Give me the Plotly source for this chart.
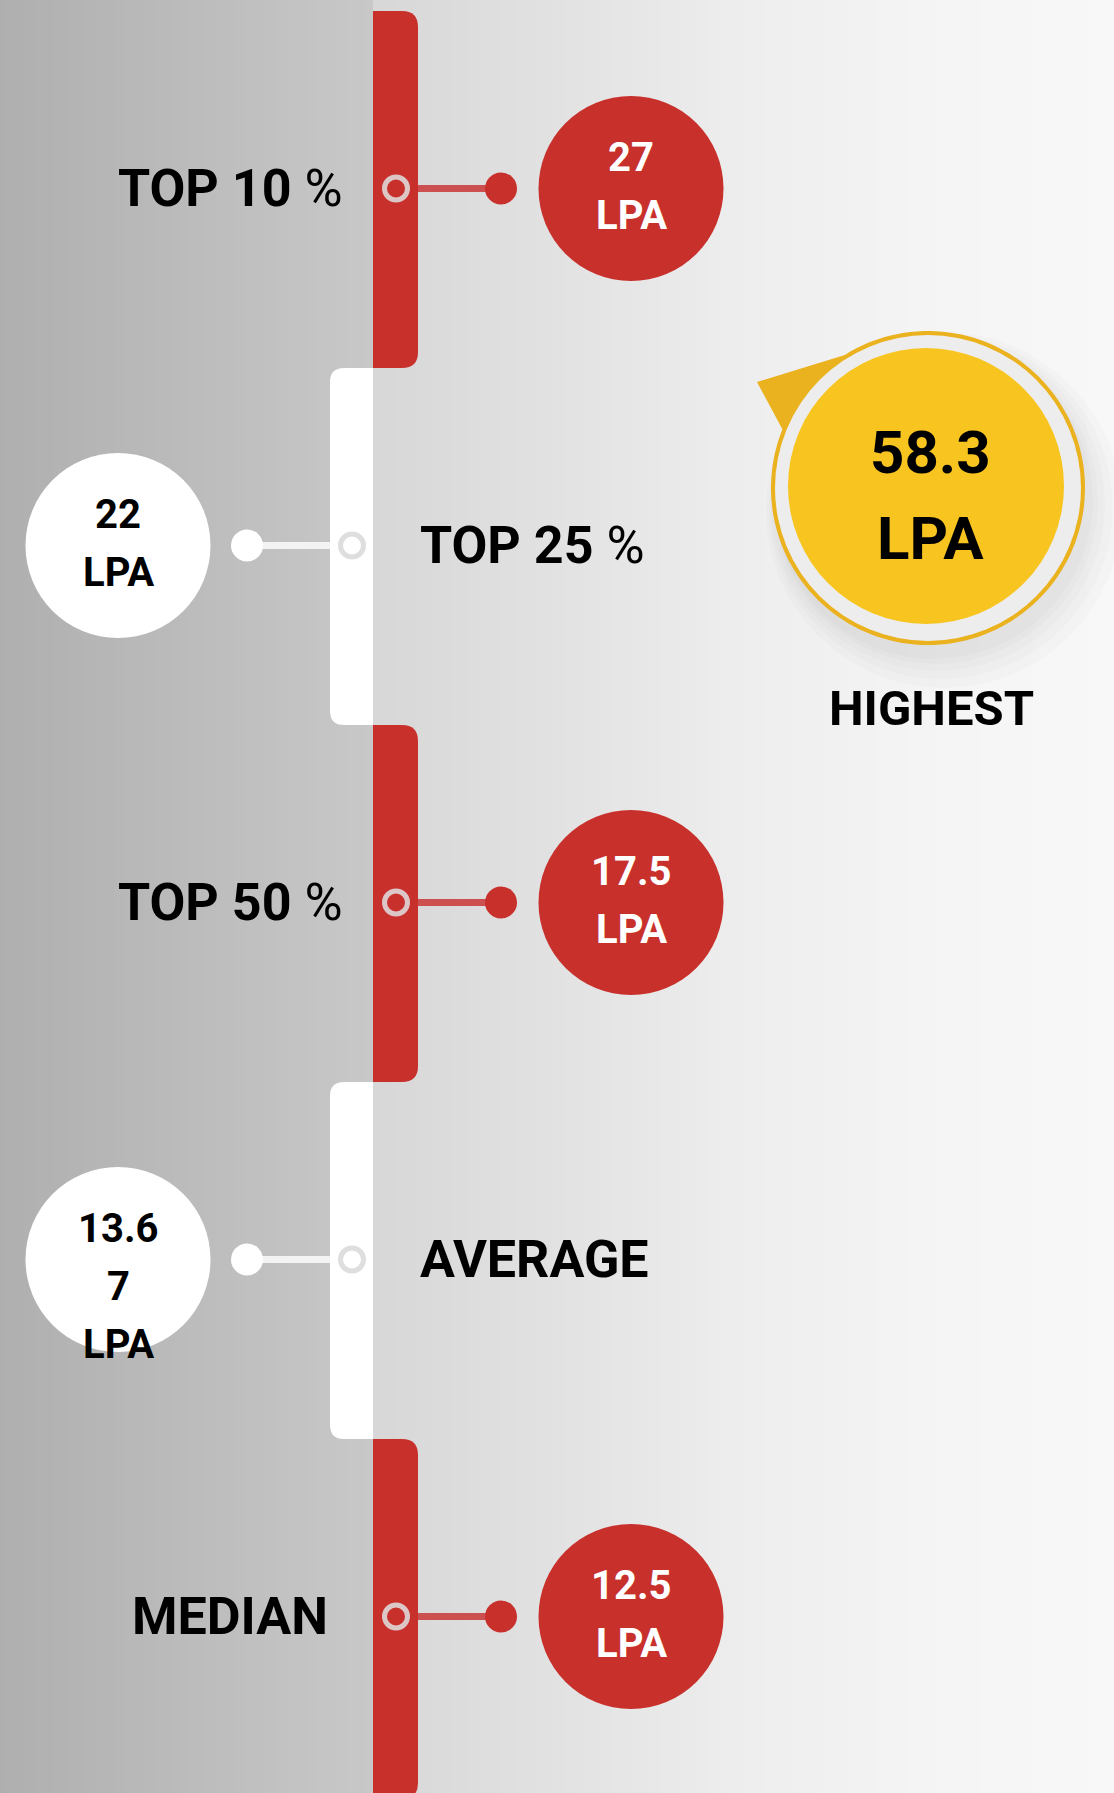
import numpy as np
import plotly.graph_objects as go

# ---------------- data ----------------
categories = ["TOP 10 %", "TOP 25 %", "TOP 50 %", "AVERAGE", "MEDIAN"]
values = [27, 22, 17.5, 13.67, 12.5]
value_labels = ["27<br>LPA", "22<br>LPA", "17.5<br>LPA", "13.6<br>7<br>LPA", "12.5<br>LPA"]
highest_value = 58.3
highest_label = "58.3<br>LPA"
highest_title = "HIGHEST"

# ---------------- layout constants ----------------
W, H = 1114, 1793
RED = "#c8302c"
RED_LINE = "#cd5050"
YEL = "#f8c41f"
YEL_DARK = "#ebb21f"
top0, seg = 11, 357
row_y = [top0 + seg * i + seg / 2 - 1 for i in range(len(categories))]
is_red = [i % 2 == 0 for i in range(len(categories))]

fig = go.Figure()
shapes = []

# background gradient strips
def strip_shapes(xa, xb, pts, step=6):
    xs, gs = zip(*pts)
    x = xa
    while x < xb:
        x1 = min(x + step, xb)
        g = int(round(np.interp((x + x1) / 2, xs, gs)))
        shapes.append(dict(type="rect", xref="x", yref="y", x0=x, x1=min(x1 + 1, xb), y0=0, y1=H,
                           fillcolor=f"rgb({g},{g},{g})", line=dict(width=0), layer="below"))
        x = x1

strip_shapes(0, 373, [(0, 175), (373, 200)])
strip_shapes(373, W, [(373, 215), (560, 226), (750, 238), (950, 245), (1114, 248)])

# vertical segmented bar
for i in range(len(categories)):
    y0 = top0 + seg * i
    y1 = y0 + seg + (3 if i == len(categories) - 1 else 0)
    if is_red[i]:
        x0, x1, r = 373, 418, 16
        path = (f"M {x0},{y0} L {x1-r},{y0} Q {x1},{y0} {x1},{y0+r} L {x1},{y1-r} "
                f"Q {x1},{y1} {x1-r},{y1} L {x0},{y1} Z")
        col = RED
    else:
        x0, x1, r = 330, 373, 14
        path = (f"M {x1},{y0} L {x0+r},{y0} Q {x0},{y0} {x0},{y0+r} L {x0},{y1-r} "
                f"Q {x0},{y1} {x0+r},{y1} L {x1},{y1} Z")
        col = "#ffffff"
    shapes.append(dict(type="path", path=path, xref="x", yref="y", fillcolor=col,
                       line=dict(width=0), layer="below"))

# highest badge
cx, cy, R = 928, 488, 157
for off, rr in [(16, 178), (13, 172), (10, 167), (8, 162), (6, 159)]:
    shapes.append(dict(type="circle", xref="x", yref="y", x0=cx + off - rr, x1=cx + off + rr,
                       y0=cy + off + 6 - rr, y1=cy + off + 6 + rr,
                       fillcolor="rgba(0,0,0,0.014)", line=dict(width=0), layer="below"))
ang = np.radians(np.linspace(238, 562, 140))
px = cx + R * np.cos(ang)
py = cy + R * np.sin(ang)
tip = (757, 382)
pts = [f"{a:.1f},{b:.1f}" for a, b in zip(px, py)]
tear = "M " + " L ".join(pts) + f" L {tip[0]},{tip[1]} Z"
shapes.append(dict(type="path", path=tear, xref="x", yref="y", fillcolor=YEL_DARK,
                   line=dict(width=0), layer="below"))
shapes.append(dict(type="circle", xref="x", yref="y", x0=cx - 153, x1=cx + 153, y0=cy - 153,
                   y1=cy + 153, fillcolor="#ededed", line=dict(width=0), layer="below"))
shapes.append(dict(type="circle", xref="x", yref="y", x0=cx - 2 - 138, x1=cx - 2 + 138,
                   y0=cy - 2 - 138, y1=cy - 2 + 138, fillcolor=YEL, line=dict(width=0), layer="below"))

# connectors, dots, rings and value circles
for i, (cat, lab) in enumerate(zip(categories, value_labels)):
    y = row_y[i]
    if is_red[i]:
        xs = [418, 501]; lc = RED_LINE; dc = RED; ring_x = 396; ring_c = "#dcc6c6"
        circ_x = 631; circ_c = RED; txt_c = "#ffffff"
        lab_x, lab_anchor = 230, "center"
    else:
        xs = [330, 247]; lc = "#f3f3f3"; dc = "#ffffff"; ring_x = 352; ring_c = "#dedede"
        circ_x = 118; circ_c = "#ffffff"; txt_c = "#000000"
        lab_x, lab_anchor = 418, "left"
    fig.add_trace(go.Scatter(x=xs, y=[y, y], mode="lines", line=dict(color=lc, width=7),
                             hoverinfo="skip", showlegend=False))
    fig.add_trace(go.Scatter(x=[xs[1]], y=[y], mode="markers",
                             marker=dict(size=32, color=dc, line=dict(width=0)),
                             hoverinfo="skip", showlegend=False))
    fig.add_trace(go.Scatter(x=[ring_x], y=[y], mode="markers",
                             marker=dict(symbol="circle-open", size=23, color=ring_c,
                                         line=dict(width=5, color=ring_c)),
                             hoverinfo="skip", showlegend=False))
    fig.add_trace(go.Scatter(x=[circ_x], y=[y], mode="markers",
                             marker=dict(size=185, color=circ_c, line=dict(width=0)),
                             name=cat, customdata=[values[i]],
                             hovertemplate="%{customdata} LPA<extra>" + cat + "</extra>",
                             showlegend=False))
    # value text lines
    for j, line in enumerate(lab.split("<br>")):
        fig.add_annotation(x=circ_x, y=y - 31 + 58 * j, text=line, showarrow=False,
                           xanchor="center", yanchor="middle",
                           font=dict(family="Roboto", size=40, color=txt_c, weight="bold"))
    # category label
    ltxt = cat.replace("%", '<span style="font-weight:400">%</span>')
    fig.add_annotation(x=lab_x, y=y, text=ltxt, showarrow=False, xanchor=lab_anchor,
                       yanchor="middle",
                       font=dict(family="Roboto", size=52, color="#000000", weight="bold"))

# highest text
for j, line in enumerate(highest_label.split("<br>")):
    fig.add_annotation(x=930, y=452 + 86 * j, text=line, showarrow=False, xanchor="center",
                       yanchor="middle",
                       font=dict(family="Roboto", size=60, color="#000000", weight="bold"))
fig.add_annotation(x=931, y=708, text=highest_title, showarrow=False, xanchor="center",
                   yanchor="middle",
                   font=dict(family="Roboto", size=49, color="#000000", weight="bold"))

fig.update_layout(
    width=W, height=H, margin=dict(l=0, r=0, t=0, b=0),
    paper_bgcolor="#eeeeee", plot_bgcolor="rgba(0,0,0,0)",
    xaxis=dict(range=[0, W], visible=False, fixedrange=True),
    yaxis=dict(range=[H, 0], visible=False, fixedrange=True),
    shapes=shapes, showlegend=False,
)
fig.write_html("out.html", config={"displayModeBar": False},
               post_script="document.body.style.margin='0';document.body.style.padding='0';")
